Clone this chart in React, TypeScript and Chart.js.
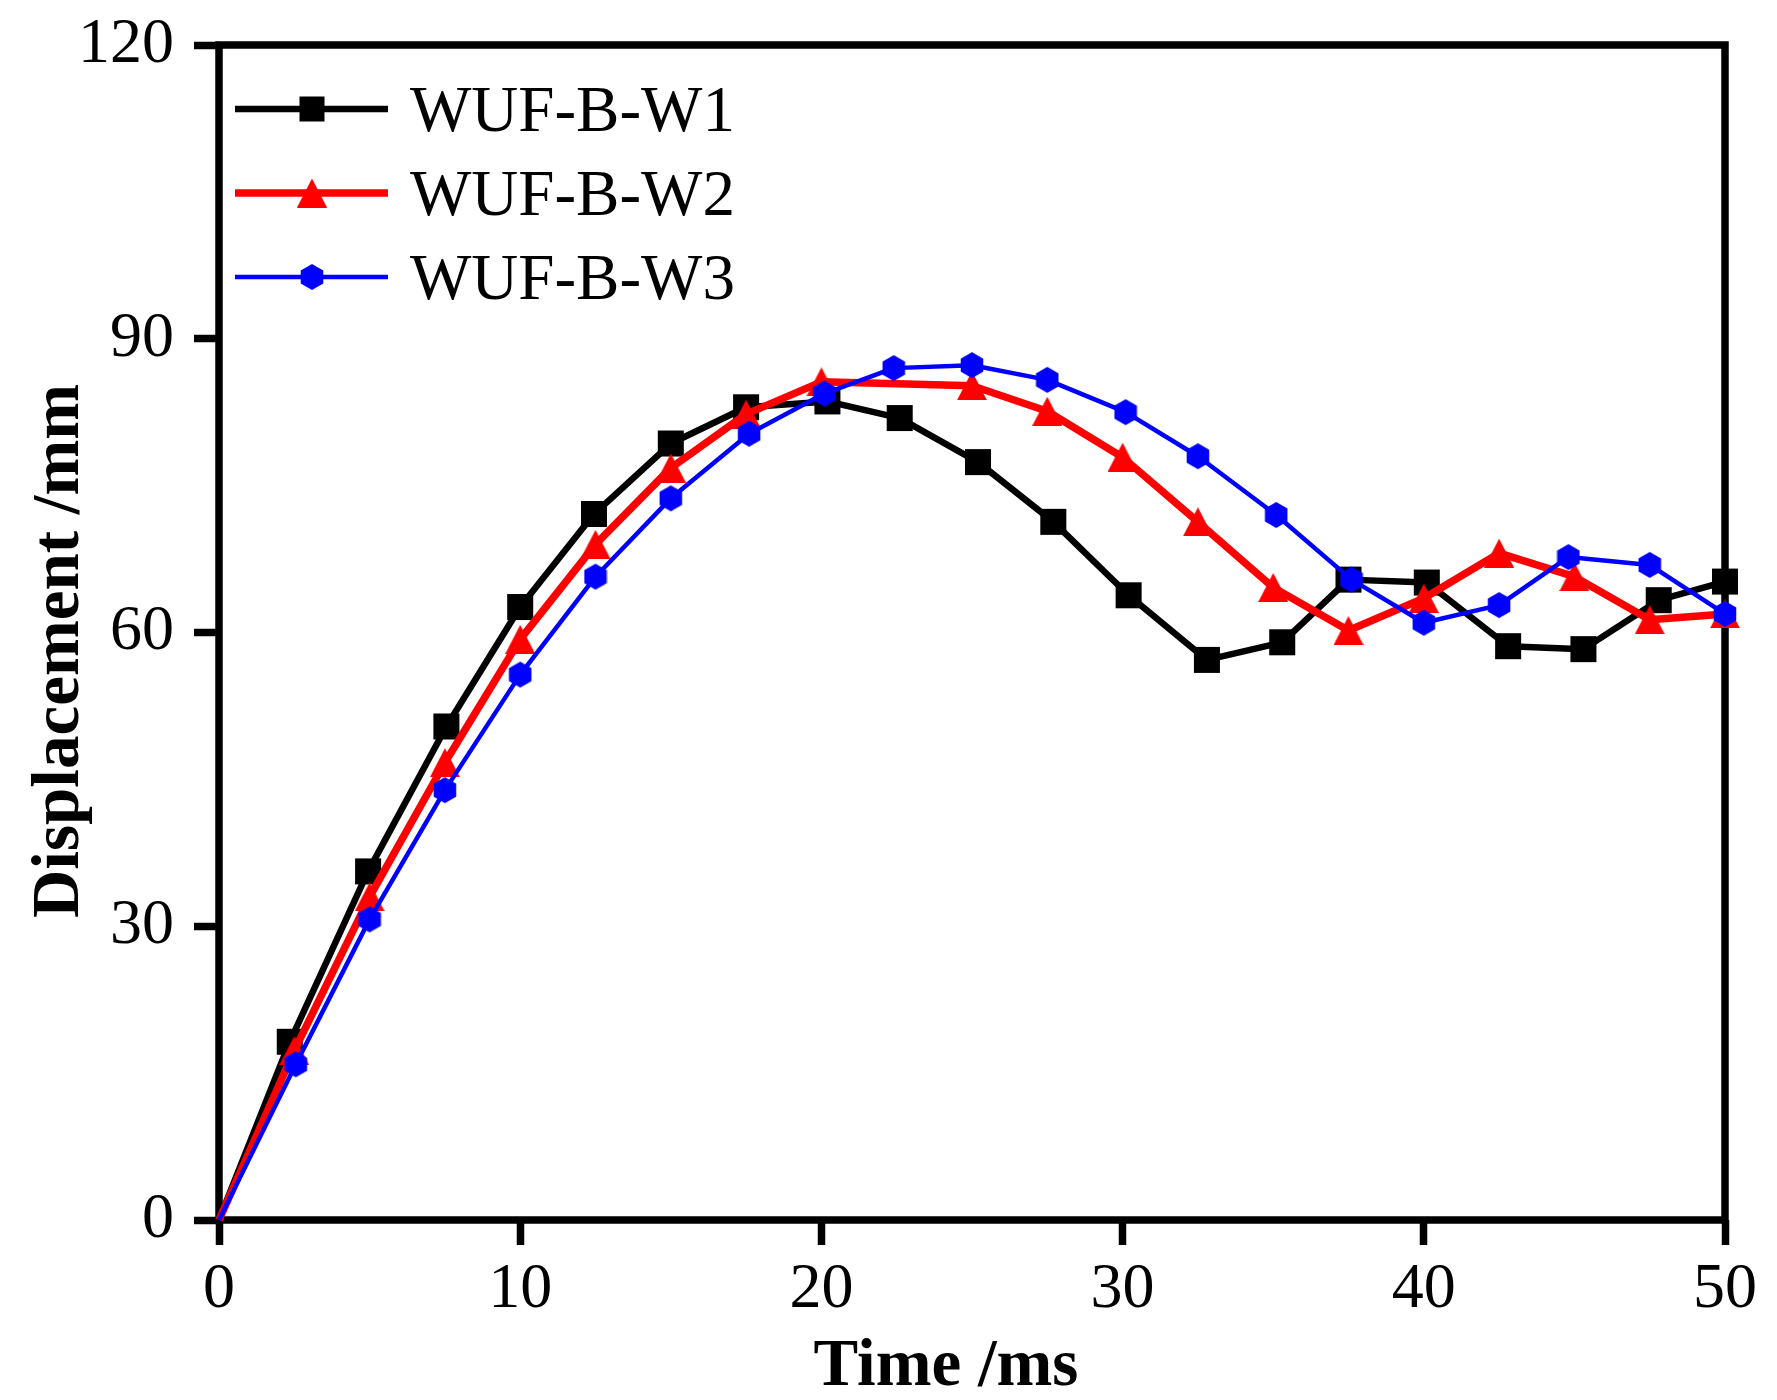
import { useEffect, useRef } from "react";
import { Chart, registerables } from "chart.js";

Chart.register(...registerables);

const FONT = "'Liberation Serif', 'Times New Roman', serif";

// time (ms) and displacement (mm)
const W1_TIME = [0, 2.35, 4.95, 7.55, 10, 12.45, 15, 17.5, 20.2, 22.6, 25.2, 27.7, 30.2, 32.8, 35.3, 37.5, 40.1, 42.8, 45.3, 47.8, 50];
const W1_DISP = [0, 18.2, 35.6, 50.4, 62.6, 72.1, 79.3, 83.0, 83.6, 81.9, 77.4, 71.3, 63.8, 57.2, 59.0, 65.4, 65.1, 58.6, 58.3, 63.3, 65.2];

const W2_TIME = [0, 2.5, 5, 7.5, 10, 12.5, 15, 17.5, 20, 25, 27.5, 30, 32.5, 35, 37.5, 40, 42.5, 45, 47.5, 50];
const W2_DISP = [0, 17.3, 33.0, 46.7, 59.3, 69.0, 76.8, 82.3, 85.6, 85.2, 82.6, 77.9, 71.3, 64.6, 60.2, 63.5, 68.1, 65.7, 61.3, 61.9];

const W3_TIME = [0, 2.55, 5, 7.5, 10, 12.5, 15, 17.6, 20.1, 22.4, 25, 27.5, 30.1, 32.5, 35.1, 37.6, 40, 42.5, 44.8, 47.5, 50];
const W3_DISP = [0, 15.9, 30.7, 43.9, 55.7, 65.7, 73.7, 80.3, 84.4, 87.0, 87.3, 85.8, 82.5, 78.0, 72.0, 65.4, 61.0, 62.8, 67.7, 66.9, 61.9];

const X_TICKS = [0, 10, 20, 30, 40, 50];
const Y_TICKS = [0, 30, 60, 90, 120];

function makeTriangle(color: string) {
  const c = document.createElement("canvas");
  c.width = 30;
  c.height = 29;
  const g = c.getContext("2d")!;
  g.fillStyle = color;
  g.beginPath();
  g.moveTo(15, 0);
  g.lineTo(30, 29);
  g.lineTo(0, 29);
  g.closePath();
  g.fill();
  return c;
}

function makeHexagon(color: string) {
  const c = document.createElement("canvas");
  c.width = 24;
  c.height = 28;
  const g = c.getContext("2d")!;
  g.fillStyle = color;
  g.beginPath();
  for (let i = 0; i < 6; i++) {
    const a = Math.PI / 2 + (i * Math.PI) / 3;
    const px = 12 + 13 * Math.cos(a);
    const py = 14 - 13 * Math.sin(a);
    if (i === 0) g.moveTo(px, py);
    else g.lineTo(px, py);
  }
  g.closePath();
  g.fill();
  return c;
}

// frame, axis titles and the line+marker legend
const decorPlugin = {
  id: "decor",
  beforeDatasetsDraw(chart: any) {
    const { ctx, chartArea: a } = chart;
    ctx.save();
    ctx.strokeStyle = "#000";
    ctx.lineWidth = 7.5;
    ctx.strokeRect(a.left, a.top, a.right - a.left, a.bottom - a.top);
    ctx.restore();
  },
  afterDraw(chart: any) {
    const { ctx } = chart;
    ctx.save();
    ctx.fillStyle = "#000";
    ctx.font = `bold 67px ${FONT}`;
    ctx.textAlign = "center";
    ctx.textBaseline = "alphabetic";
    ctx.fillText("Time /ms", 946, 1385);
    ctx.translate(78, 651);
    ctx.rotate(-Math.PI / 2);
    ctx.fillText("Displacement /mm", 0, 0);
    ctx.restore();

    const rows = [109, 193, 277];
    chart.data.datasets.forEach((ds: any, i: number) => {
      const y = rows[i];
      ctx.save();
      ctx.strokeStyle = ds.borderColor;
      ctx.lineWidth = ds.borderWidth;
      ctx.beginPath();
      ctx.moveTo(235, y);
      ctx.lineTo(388, y);
      ctx.stroke();
      const ps = ds.pointStyle;
      if (typeof ps === "object") {
        ctx.drawImage(ps, 312 - ps.width / 2, y - ps.height / 2);
      } else {
        ctx.fillStyle = ds.borderColor;
        ctx.fillRect(312 - 12.5, y - 12.5, 25, 25);
      }
      ctx.fillStyle = "#000";
      ctx.font = `65px ${FONT}`;
      ctx.textAlign = "left";
      ctx.textBaseline = "alphabetic";
      ctx.fillText(ds.label, 410, y + 22);
      ctx.restore();
    });
  },
};

export default function App() {
  const canvasRef = useRef<HTMLCanvasElement>(null);

  useEffect(() => {
    document.body.style.margin = "0";
    document.body.style.background = "#fff";
    let chart: Chart | null = null;
    let cancelled = false;

    const build = () => {
      if (cancelled || !canvasRef.current) return;
      const noFirst = (r: number) => (c: any) => (c.dataIndex === 0 ? 0 : r);

      chart = new Chart(canvasRef.current, {
        type: "line",
        data: {
          datasets: [
            {
              label: "WUF-B-W1",
              data: W1_TIME.map((x, i) => ({ x, y: W1_DISP[i] })),
              borderColor: "#000000",
              backgroundColor: "#000000",
              borderWidth: 6.5,
              pointStyle: "rect",
              pointRadius: noFirst(18.4),
              pointBackgroundColor: "#000000",
              pointBorderWidth: 0,
              borderJoinStyle: "round",
              order: 3,
              clip: false,
            },
            {
              label: "WUF-B-W2",
              data: W2_TIME.map((x, i) => ({ x, y: W2_DISP[i] })),
              borderColor: "#ff0000",
              backgroundColor: "#ff0000",
              borderWidth: 7.5,
              pointStyle: makeTriangle("#ff0000"),
              pointRadius: noFirst(15),
              pointBorderWidth: 0,
              borderJoinStyle: "round",
              order: 2,
              clip: false,
            },
            {
              label: "WUF-B-W3",
              data: W3_TIME.map((x, i) => ({ x, y: W3_DISP[i] })),
              borderColor: "#0000ff",
              backgroundColor: "#0000ff",
              borderWidth: 4.5,
              pointStyle: makeHexagon("#0000ff"),
              pointRadius: noFirst(13),
              pointBorderWidth: 0,
              borderJoinStyle: "round",
              order: 1,
              clip: false,
            },
          ] as any,
        },
        options: {
          responsive: false,
          animation: false,
          events: [],
          layout: { padding: { left: 0, top: 45, right: 52, bottom: 0 } },
          plugins: { legend: { display: false }, tooltip: { enabled: false } },
          scales: {
            x: {
              type: "linear",
              min: 0,
              max: 50,
              afterBuildTicks: (s: any) => {
                s.ticks = X_TICKS.map((v) => ({ value: v }));
              },
              afterFit: (s: any) => {
                s.height = 180;
                s.paddingLeft = 0;
                s.paddingRight = 0;
              },
              border: { display: false },
              grid: {
                display: true,
                drawOnChartArea: false,
                drawTicks: true,
                tickLength: 25,
                tickWidth: 7.5,
                tickColor: "#000",
                color: "#000",
              },
              ticks: {
                color: "#000",
                padding: 7,
                maxRotation: 0,
                autoSkip: false,
                font: { family: FONT, size: 64 },
              },
            },
            y: {
              type: "linear",
              min: 0,
              max: 120,
              afterBuildTicks: (s: any) => {
                s.ticks = Y_TICKS.map((v) => ({ value: v }));
              },
              afterFit: (s: any) => {
                s.width = 219;
                s.paddingTop = 0;
                s.paddingBottom = 0;
              },
              border: { display: false },
              grid: {
                display: true,
                drawOnChartArea: false,
                drawTicks: true,
                tickLength: 25,
                tickWidth: 7.5,
                tickColor: "#000",
                color: "#000",
              },
              ticks: {
                color: "#000",
                padding: 20,
                autoSkip: false,
                font: { family: FONT, size: 64 },
              },
            },
          },
        },
        plugins: [decorPlugin],
      });
    };

    const fonts = (document as any).fonts;
    if (fonts && fonts.load) {
      Promise.all([
        fonts.load(`64px 'Liberation Serif'`),
        fonts.load(`bold 67px 'Liberation Serif'`),
      ])
        .catch(() => null)
        .then(build);
    } else {
      build();
    }

    return () => {
      cancelled = true;
      chart?.destroy();
    };
  }, []);

  return (
    <div style={{ width: 1777, height: 1400, background: "#fff" }}>
      <canvas ref={canvasRef} width={1777} height={1400} style={{ width: 1777, height: 1400, display: "block" }} />
    </div>
  );
}
